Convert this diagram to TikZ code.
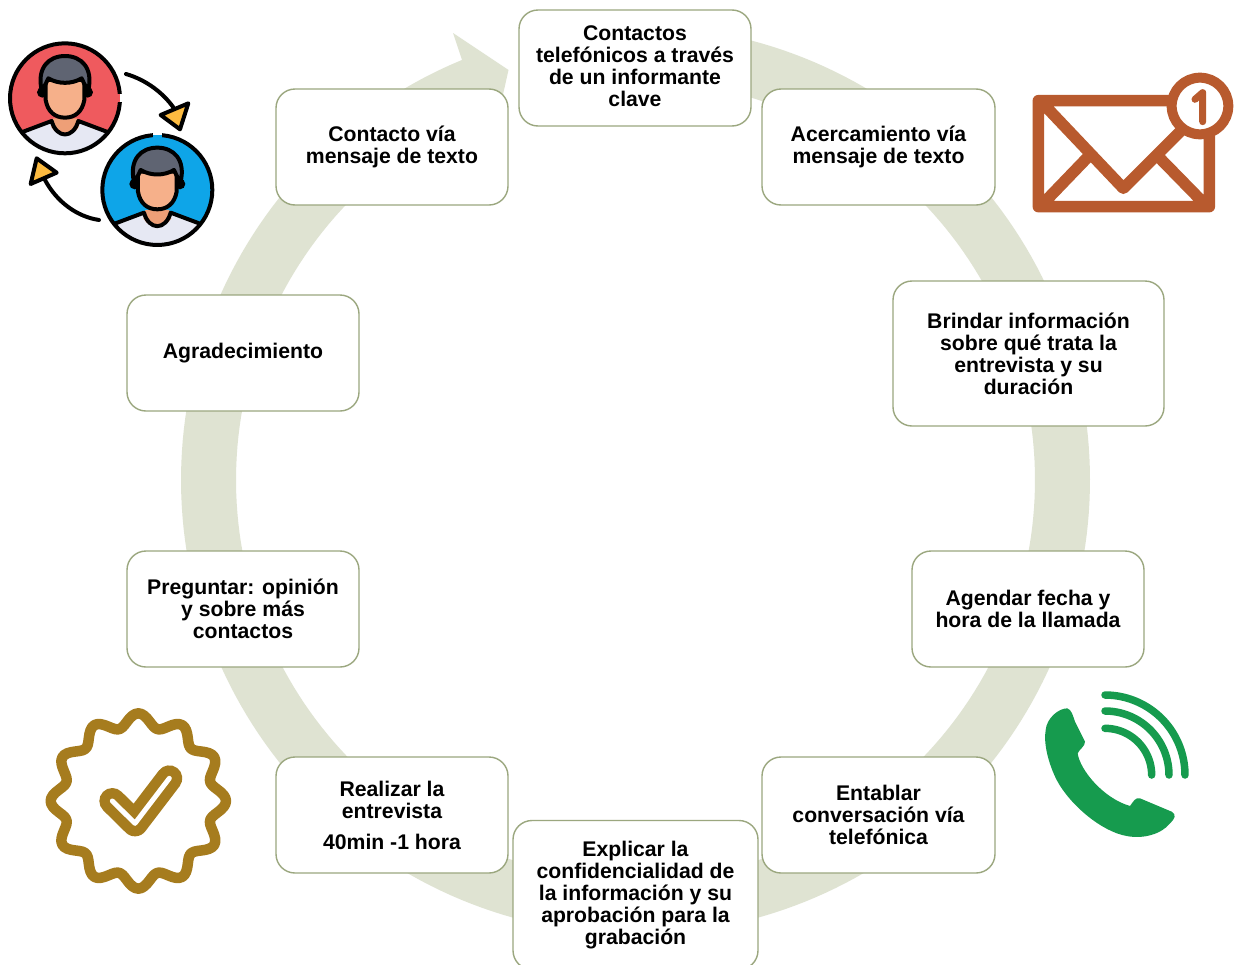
\documentclass[tikz,border=0pt]{standalone}
\usepackage{fontspec}
\setmainfont{Liberation Sans}
\definecolor{ringc}{HTML}{DFE3D2}
\definecolor{boxline}{HTML}{9BA77F}
\definecolor{mailc}{HTML}{B85A2E}
\definecolor{phonec}{HTML}{169B4E}
\definecolor{badgec}{HTML}{A67C1E}
\definecolor{hairc}{HTML}{5F6472}
\definecolor{facec}{HTML}{F6B08A}
\definecolor{neckc}{HTML}{EE9F77}
\definecolor{shirtc}{HTML}{E6E8F3}
\definecolor{tric}{HTML}{FDBB40}
\definecolor{redc}{HTML}{EF5A5E}
\definecolor{bluec}{HTML}{0EA5E8}
\tikzset{
  stepbox/.style={draw=boxline,line width=1.4pt,fill=white,rounded corners=19pt,inner sep=0pt,align=center,
    font=\fontsize{21.2}{22}\selectfont\bfseries},
  iconline/.style={line width=4pt,black,line cap=round,line join=round}
}
\newcommand{\personicon}[3]{%
\begin{scope}[shift={(#1,#2)}]
  \fill[#3] (0,0) circle (165);
  \begin{scope}
    \clip (0,0) circle (165);
    \fill[shirtc] (-135,105) -- (-40,65) -- (40,65) -- (135,105) -- (135,200) -- (-135,200) -- cycle;
  \end{scope}
  \fill[neckc] (-36,60) -- (36,60) -- (42,85) .. controls (25,118) and (-25,118) .. (-42,85) -- cycle;
  \draw[iconline] (-125,100) -- (-40,68) .. controls (-25,122) and (25,122) .. (40,68) -- (125,100);
  \fill[black] (-68,-18) circle (16) (68,-18) circle (16);
  \draw[iconline,fill=facec] (-58,-55) -- (-58,5) .. controls (-52,40) and (-30,58) .. (0,58) .. controls (30,58) and (52,40) .. (58,5) -- (58,-55) -- cycle;
  \draw[iconline,fill=hairc] (-70,-25) .. controls (-85,-90) and (-50,-127) .. (0,-127) .. controls (50,-127) and (85,-90) .. (70,-25) .. controls (58,-40) and (55,-50) .. (50,-60) .. controls (20,-42) and (-20,-42) .. (-50,-60) .. controls (-55,-50) and (-58,-40) .. (-70,-25) -- cycle;
  \draw[iconline] (0,0) circle (165);
\end{scope}}
\newcommand{\phonearc}[1]{\draw[phonec,line width=7.5pt,line cap=round] plot[domain=90:0,samples=40] ({225+#1*cos(\x)},{285-#1*sin(\x)});}
\begin{document}
\begin{tikzpicture}[x=1pt,y=-1pt]
\useasboundingbox (0,0) rectangle (1236,964);
\fill[white] (0,0) rectangle (1236,964);
% ring
\draw[ringc,line width=55pt] plot[domain=85:-247.6,samples=240] ({635.5+427*cos(\x)},{480-427*sin(\x)});
\fill[ringc] (453,33) -- (508.5,70) -- (493.7,136) -- (470,125) -- (462,60) -- cycle;
% boxes
\node[stepbox,minimum width=232pt,minimum height=116pt] (a) at (635,68) {Contactos\\telefónicos a través\\de un informante\\clave\rule[-4pt]{0pt}{1pt}};
\node[stepbox,minimum width=233pt,minimum height=116pt] (b) at (878.5,147) {Acercamiento vía\\mensaje de texto};
\node[stepbox,minimum width=271pt,minimum height=145pt] (c) at (1028.5,353.5) {Brindar información\\sobre qué trata la\\entrevista y su\\duración};
\node[stepbox,minimum width=232pt,minimum height=116pt] (d) at (1028,609) {Agendar fecha y\\hora de la llamada};
\node[stepbox,minimum width=233pt,minimum height=116pt] (e) at (878.5,815) {Entablar\\conversación vía\\telefónica};
\node[stepbox,minimum width=245pt,minimum height=149pt] (f) at (635.5,895) {Explicar la\\confidencialidad de\\la información y su\\aprobación para la\\grabación};
\node[stepbox,minimum width=232pt,minimum height=116pt] (g) at (392,815) {Realizar la\\entrevista\\[9pt]40min -1 hora};
\node[stepbox,minimum width=232pt,minimum height=116pt] (h) at (243,609) {Preguntar: opinión\\y sobre más\\contactos};
\node[stepbox,minimum width=232pt,minimum height=116pt] (i) at (243,353) {Agradecimiento};
\node[stepbox,minimum width=232pt,minimum height=116pt] (j) at (392,147) {Contacto vía\\mensaje de texto};
% people icon
\begin{scope}[shift={(0,20)},x=0.3333pt,y=-0.3333pt]
  \personicon{195}{235}{redc}
  \personicon{472}{510}{bluec}
  \fill[redc] (346,223) rectangle (360,247);
  \fill[white] (360,223) rectangle (373,247);
  \fill[bluec] (458,345) rectangle (486,356);
  \fill[white] (458,332) rectangle (486,345);
  \draw[iconline] (378,162) .. controls (440,180) and (490,220) .. (520,262);
  \draw[iconline,fill=tric] (565,250) -- (540,328) -- (482,285) -- cycle;
  \draw[iconline] (297,600) .. controls (230,590) and (170,545) .. (135,480);
  \draw[iconline,fill=tric] (110,415) -- (170,458) -- (92,492) -- cycle;
\end{scope}
% envelope
\begin{scope}[shift={(1020,60)},x=0.3333pt,y=-0.3333pt]
  \draw[mailc,line width=11.5pt,line join=round,line cap=round]
    (55,122) rectangle (568,440)
    (70,132) -- (310,385) -- (490,205)
    (70,430) -- (200,295)
    (552,430) -- (420,295);
  \draw[mailc,line width=10pt,fill=white] (540,138) circle (85);
  \draw[mailc,line width=7pt,line cap=round,line join=round] (525,118) -- (548,98) -- (548,185);
\end{scope}
% phone
\begin{scope}[shift={(1030,680)},x=0.3333pt,y=-0.3333pt]
  \fill[phonec] (112,85) .. controls (125,90) and (128,105) .. (135,125) -- (165,185) .. controls (165,200) and (150,205) .. (143,220)
    .. controls (150,270) and (220,355) .. (300,378) .. controls (310,365) and (315,352) .. (330,355)
    -- (425,395) .. controls (440,405) and (435,415) .. (420,430)
    .. controls (395,462) and (340,478) .. (290,468)
    .. controls (215,455) and (120,375) .. (80,300)
    .. controls (55,250) and (40,190) .. (47,150)
    .. controls (50,115) and (85,85) .. (112,85) -- cycle;
  \phonearc{240}
  \phonearc{192}
  \phonearc{140}
\end{scope}
% badge
\begin{scope}[shift={(30,695)},x=0.3333pt,y=-0.3333pt]
  \draw[badgec,line width=10.5pt,line join=round] plot[domain=0:360,samples=181] ({325+(243+20*cos(12*\x))*cos(\x)},{318+(243+20*cos(12*\x))*sin(\x)}) -- cycle;
  \draw[badgec,line width=26pt,line cap=round,line join=round] (247,318) -- (315,385) -- (418,250);
  \draw[white,line width=5pt,line cap=round,line join=round] (247,318) -- (315,385) -- (418,250);
\end{scope}
\end{tikzpicture}
\end{document}
